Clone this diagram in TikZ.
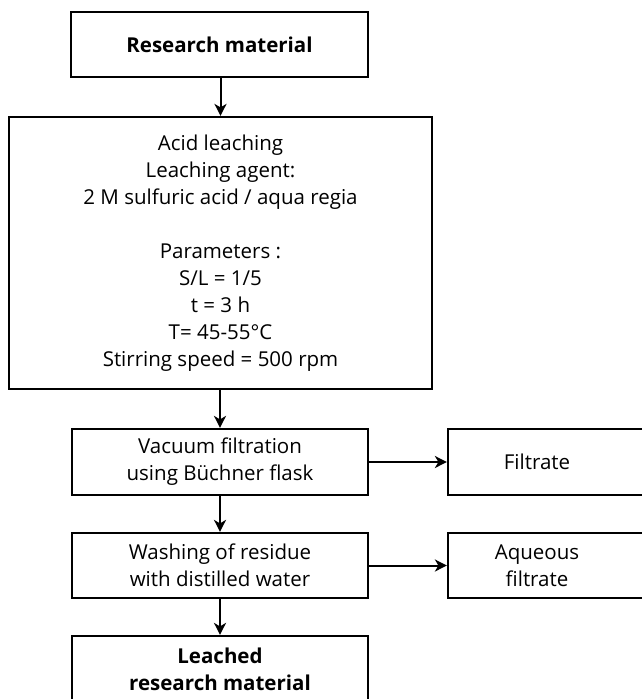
\documentclass[tikz,border=0pt]{standalone}
\usepackage{fontspec}
\setmainfont{Open Sans}
\usetikzlibrary{arrows.meta}
\begin{document}
\begin{tikzpicture}[x=1pt,y=-1pt,
  txt/.style={font=\fontsize{20.5}{27}\selectfont},
  box/.style={draw,line width=2.2pt,rectangle,inner sep=0pt,align=center,txt},
  btxt/.style={font=\fontsize{20.5}{27}\selectfont\bfseries},
  arr/.style={line width=2pt,-{Stealth[length=12pt,width=12pt,inset=3.5pt]}}]
\useasboundingbox (0,0) rectangle (641,699);
\node[box,minimum width=297pt,minimum height=65pt,btxt] (rm) at (219.5,44.5) {Research material};
\node[box,minimum width=423pt,minimum height=272pt] (al) at (220.5,253) {Acid leaching\\Leaching agent:\\2 M sulfuric acid / aqua regia\\[27pt]Parameters :\\S/L = 1/5\\t = 3 h\\T= 45-55°C\\Stirring speed = 500 rpm};
\node[box,minimum width=296pt,minimum height=66pt] (vf) at (220,462) {Vacuum filtration\\using Büchner flask};
\node[box,minimum width=296pt,minimum height=65pt] (wr) at (220,565.5) {Washing of residue\\with distilled water};
\node[box,minimum width=296pt,minimum height=66pt,btxt] (lr) at (220,669) {Leached\\research material};
\node[box,minimum width=200pt,minimum height=66pt] (fi) at (548,462) {};
\node[txt] (fit) at (537,462) {Filtrate};
\node[box,minimum width=200pt,minimum height=65pt] (af) at (548,565.5) {};
\node[align=center,txt] (aft) at (537,565.5) {Aqueous\\filtrate};
\draw[arr] (rm.south -| al.north) -- (al.north);
\draw[arr] (al.south -| vf.north) -- (vf.north);
\draw[arr] (vf) -- (wr);
\draw[arr] (wr) -- (lr);
\draw[arr] (vf.east) -- (vf.east -| fi.west);
\draw[arr] (wr.east) -- (wr.east -| af.west);
\end{tikzpicture}
\end{document}
